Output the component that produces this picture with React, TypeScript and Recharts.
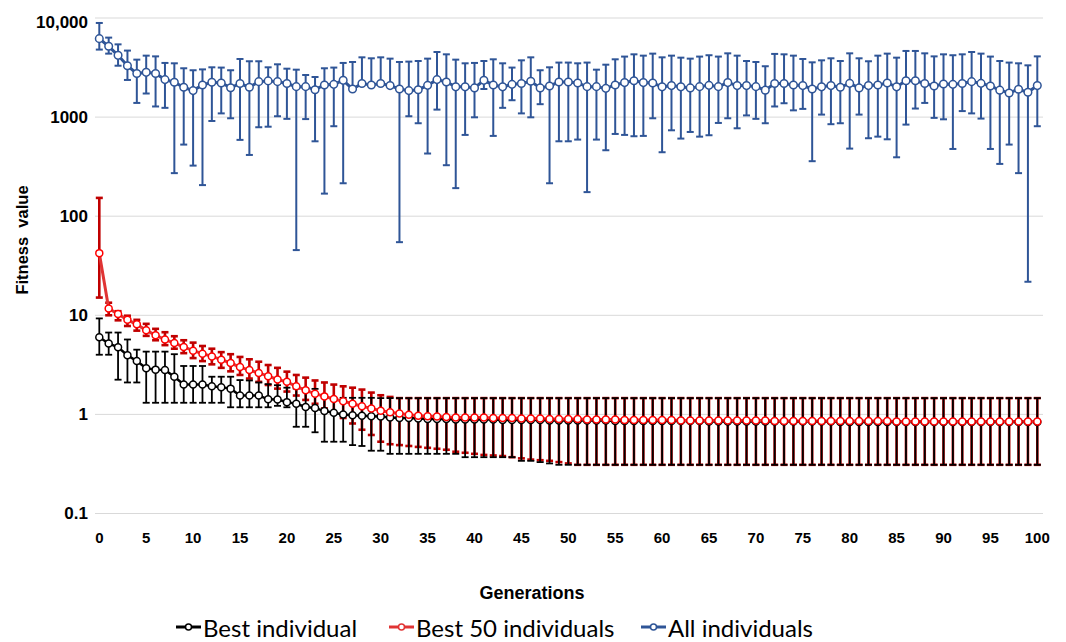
import React from 'react';
import { LineChart, Line, XAxis, YAxis, CartesianGrid, ErrorBar, Legend } from 'recharts';

// ---------- data ----------
const generations = [
  0, 1, 2, 3, 4, 5, 6, 7, 8, 9,
  10, 11, 12, 13, 14, 15, 16, 17, 18, 19,
  20, 21, 22, 23, 24, 25, 26, 27, 28, 29,
  30, 31, 32, 33, 34, 35, 36, 37, 38, 39,
  40, 41, 42, 43, 44, 45, 46, 47, 48, 49,
  50, 51, 52, 53, 54, 55, 56, 57, 58, 59,
  60, 61, 62, 63, 64, 65, 66, 67, 68, 69,
  70, 71, 72, 73, 74, 75, 76, 77, 78, 79,
  80, 81, 82, 83, 84, 85, 86, 87, 88, 89,
  90, 91, 92, 93, 94, 95, 96, 97, 98, 99,
  100,
];

// Best individual
const bestMean = [
  6.0, 5.2, 4.75, 3.95, 3.45, 2.92, 2.83, 2.8, 2.4, 2.0,
  2.0, 2.0, 1.92, 1.88, 1.82, 1.55, 1.55, 1.55, 1.42, 1.41,
  1.33, 1.28, 1.19, 1.16, 1.08, 1.04, 1.0, 0.98, 0.97, 0.96,
  0.95, 0.93, 0.92, 0.92, 0.91, 0.9, 0.9, 0.9, 0.89, 0.89,
  0.89, 0.89, 0.89, 0.88, 0.88, 0.88, 0.88, 0.88, 0.87, 0.87,
  0.87, 0.87, 0.87, 0.87, 0.87, 0.86, 0.86, 0.86, 0.86, 0.86,
  0.86, 0.86, 0.86, 0.86, 0.86, 0.85, 0.85, 0.85, 0.85, 0.85,
  0.85, 0.85, 0.85, 0.85, 0.85, 0.85, 0.85, 0.85, 0.85, 0.84,
  0.84, 0.84, 0.84, 0.84, 0.84, 0.84, 0.84, 0.84, 0.84, 0.84,
  0.84, 0.84, 0.84, 0.84, 0.84, 0.84, 0.84, 0.84, 0.84, 0.84,
  0.84,
];
const bestUpper = [
  9.3, 6.7, 6.7, 5.7, 4.5, 4.3, 4.3, 4.3, 4.05, 3.08,
  3.08, 3.08, 2.4, 2.4, 2.4, 2.22, 2.2, 2.1, 2.02, 1.97,
  1.86, 1.82, 1.82, 1.81, 1.47, 1.47, 1.47, 1.47, 1.47, 1.47,
  1.46, 1.46, 1.46, 1.46, 1.46, 1.46, 1.46, 1.46, 1.46, 1.46,
  1.46, 1.46, 1.46, 1.46, 1.46, 1.46, 1.46, 1.46, 1.46, 1.46,
  1.46, 1.46, 1.46, 1.46, 1.46, 1.46, 1.46, 1.46, 1.46, 1.46,
  1.46, 1.46, 1.46, 1.46, 1.46, 1.46, 1.46, 1.46, 1.46, 1.46,
  1.46, 1.46, 1.46, 1.46, 1.46, 1.46, 1.46, 1.46, 1.46, 1.46,
  1.46, 1.46, 1.46, 1.46, 1.46, 1.46, 1.46, 1.46, 1.46, 1.46,
  1.46, 1.46, 1.46, 1.46, 1.46, 1.46, 1.46, 1.46, 1.46, 1.46,
  1.46,
];
const bestLower = [
  4.0, 4.0, 2.24, 2.1, 2.1, 1.31, 1.31, 1.31, 1.31, 1.31,
  1.31, 1.31, 1.31, 1.31, 1.18, 1.18, 1.18, 1.18, 1.18, 1.22,
  1.18, 0.75, 0.75, 0.66, 0.53, 0.53, 0.53, 0.49, 0.48, 0.43,
  0.43, 0.4, 0.4, 0.4, 0.4, 0.4, 0.4, 0.4, 0.4, 0.37,
  0.37, 0.37, 0.37, 0.37, 0.37, 0.34, 0.34, 0.33, 0.32, 0.31,
  0.31, 0.31, 0.31, 0.31, 0.31, 0.31, 0.31, 0.31, 0.31, 0.31,
  0.31, 0.31, 0.31, 0.31, 0.31, 0.31, 0.31, 0.31, 0.31, 0.31,
  0.31, 0.31, 0.31, 0.31, 0.31, 0.31, 0.31, 0.31, 0.31, 0.31,
  0.31, 0.31, 0.31, 0.31, 0.31, 0.31, 0.31, 0.31, 0.31, 0.31,
  0.31, 0.31, 0.31, 0.31, 0.31, 0.31, 0.31, 0.31, 0.31, 0.31,
  0.31,
];

// Best 50 individuals
const best50Mean = [
  42.4, 11.7, 10.3, 9.0, 8.1, 7.05, 6.3, 5.7, 5.25, 4.8,
  4.4, 4.1, 3.85, 3.57, 3.3, 3.0, 2.8, 2.62, 2.43, 2.25,
  2.13, 1.92, 1.75, 1.62, 1.52, 1.43, 1.36, 1.28, 1.21, 1.15,
  1.09, 1.05, 1.02, 0.99, 0.97, 0.96, 0.95, 0.94, 0.93, 0.93,
  0.93, 0.93, 0.92, 0.92, 0.92, 0.91, 0.91, 0.91, 0.9, 0.9,
  0.9, 0.9, 0.89, 0.89, 0.89, 0.89, 0.88, 0.88, 0.88, 0.88,
  0.88, 0.88, 0.87, 0.87, 0.87, 0.87, 0.87, 0.87, 0.87, 0.87,
  0.87, 0.87, 0.86, 0.86, 0.86, 0.86, 0.86, 0.86, 0.86, 0.86,
  0.86, 0.86, 0.86, 0.86, 0.86, 0.85, 0.85, 0.85, 0.85, 0.85,
  0.85, 0.85, 0.85, 0.85, 0.85, 0.85, 0.85, 0.85, 0.85, 0.85,
  0.85,
];
const best50Upper = [
  153, 13.4, 11.0, 9.9, 9.0, 8.2, 7.3, 6.75, 6.15, 5.6,
  5.3, 4.9, 4.6, 4.25, 4.05, 3.8, 3.6, 3.4, 3.15, 2.95,
  2.7, 2.5, 2.35, 2.2, 2.1, 2.0, 1.92, 1.86, 1.78, 1.66,
  1.56, 1.5, 1.46, 1.46, 1.46, 1.46, 1.46, 1.46, 1.46, 1.46,
  1.46, 1.46, 1.46, 1.46, 1.46, 1.46, 1.46, 1.46, 1.46, 1.46,
  1.46, 1.46, 1.46, 1.46, 1.46, 1.46, 1.46, 1.46, 1.46, 1.46,
  1.46, 1.46, 1.46, 1.46, 1.46, 1.46, 1.46, 1.46, 1.46, 1.46,
  1.46, 1.46, 1.46, 1.46, 1.46, 1.46, 1.46, 1.46, 1.46, 1.46,
  1.46, 1.46, 1.46, 1.46, 1.46, 1.46, 1.46, 1.46, 1.46, 1.46,
  1.46, 1.46, 1.46, 1.46, 1.46, 1.46, 1.46, 1.46, 1.46, 1.46,
  1.46,
];
const best50Lower = [
  15.1, 10.0, 8.9, 7.8, 7.0, 6.2, 5.6, 5.0, 4.6, 4.15,
  3.7, 3.45, 3.2, 2.95, 2.72, 2.5, 2.3, 2.13, 1.98, 1.82,
  1.7, 1.55, 1.4, 1.28, 1.15, 1.03, 0.92, 0.81, 0.7, 0.62,
  0.53, 0.5, 0.49, 0.48, 0.47, 0.46, 0.45, 0.44, 0.42, 0.41,
  0.4, 0.39, 0.385, 0.38, 0.37, 0.36, 0.35, 0.345, 0.34, 0.33,
  0.32, 0.31, 0.31, 0.31, 0.31, 0.31, 0.31, 0.31, 0.31, 0.31,
  0.31, 0.31, 0.31, 0.31, 0.31, 0.31, 0.31, 0.31, 0.31, 0.31,
  0.31, 0.31, 0.31, 0.31, 0.31, 0.31, 0.31, 0.31, 0.31, 0.31,
  0.31, 0.31, 0.31, 0.31, 0.31, 0.31, 0.31, 0.31, 0.31, 0.31,
  0.31, 0.31, 0.31, 0.31, 0.31, 0.31, 0.31, 0.31, 0.31, 0.31,
  0.31,
];

// All individuals
const allMean = [
  6190, 5180, 4200, 3300, 2750, 2830, 2750, 2390, 2250, 2000,
  1850, 2110, 2250, 2210, 1980, 2180, 2000, 2280, 2320, 2280,
  2180, 2030, 2030, 1890, 2110, 2140, 2350, 1920, 2180, 2110,
  2180, 2080, 1920, 1850, 1890, 2090, 2390, 2260, 2020, 2020,
  1970, 2350, 2110, 2020, 2140, 2180, 2300, 1970, 2060, 2260,
  2260, 2210, 2030, 2030, 1950, 2110, 2230, 2330, 2230, 2210,
  2020, 2080, 2020, 1970, 2030, 2090, 2030, 2230, 2080, 2080,
  2030, 1870, 2180, 2180, 2110, 2080, 1920, 2020, 2080, 2000,
  2190, 1970, 2080, 2110, 2210, 2020, 2330, 2330, 2180, 2060,
  2160, 2140, 2180, 2280, 2190, 2060, 1870, 1750, 1910, 1780,
  2080,
];
const allUpper = [
  8910, 6340, 5420, 4690, 3800, 4170, 4100, 3520, 3490, 3110,
  2970, 3030, 3180, 3160, 2970, 3860, 3660, 3660, 3180, 3410,
  3080, 3010, 2660, 2540, 3110, 3160, 3520, 3600, 4010, 3920,
  4010, 3890, 3600, 3630, 3680, 3890, 4540, 4300, 3800, 3490,
  3520, 3680, 3830, 3490, 3160, 3740, 4010, 2970, 3180, 3550,
  3550, 3490, 3550, 3010, 3380, 3830, 4080, 4300, 4170, 4370,
  4010, 4170, 3980, 3890, 4080, 4210, 4080, 4400, 4170, 3680,
  3600, 3260, 4340, 4300, 4170, 3860, 3570, 3740, 3920, 3680,
  4400, 3920, 3660, 4170, 4370, 3980, 4650, 4650, 4400, 4100,
  4300, 4210, 4300, 4540, 4370, 4080, 3680, 3550, 3490, 3330,
  4100,
];
// null = lower bar not drawn
const allLower: (number | null)[] = [
  4800, 4370, 3300, 2370, 1390, 1730, 1280, 1240, 272, 528,
  324, 206, 914, 1090, 973, 589, 415, 790, 800, 1020,
  960, 45.5, 955, 570, 169, 809, 215, null, null, null,
  null, null, 54.7, 1020, 867, 429, 1190, 327, 192, 661,
  995, 1920, 646, 1240, 1480, 1090, 995, 1350, 215, 570,
  570, 593, 175, 593, 463, 676, 661, 641, 646, 973,
  442, 736, 607, 708, 635, 656, 873, 973, 771, 1040,
  960, 867, 1280, 1380, 1170, 1210, 359, 1060, 848, 867,
  481, 1060, 612, 635, 597, 393, 840, 1220, 1390, 982,
  950, 477, 1150, 1090, 966, 477, 337, 528, 272, 21.8,
  809,
];

const xTicks = [0, 5, 10, 15, 20, 25, 30, 35, 40, 45, 50, 55, 60, 65, 70, 75, 80, 85, 90, 95, 100];
const yTicks = [0.1, 1, 10, 100, 1000, 10000];
const yTickLabels = ['0.1', '1', '10', '100', '1000', '10,000'];
const seriesNames = ['Best individual', 'Best 50 individuals', 'All individuals'];

// ---------- styles ----------
const BLACK = '#000000';
const RED_LINE = '#E03434';
const RED_DOT = '#FF0000';
const RED_BAR = '#C00000';
const BLUE = '#2F5597';
const AXIS_FONT = "'Liberation Sans', Arial, sans-serif";
const LEGEND_FONT = "Lato, 'Liberation Sans', sans-serif";
const legendColors = [BLACK, RED_LINE, BLUE];
const legendItemWidths = [213, 252, 230];

const data = generations.map((g, i) => ({
  gen: g,
  best: bestMean[i],
  bestErr: [bestMean[i] - bestLower[i], bestUpper[i] - bestMean[i]],
  best50: best50Mean[i],
  best50Err: [best50Mean[i] - best50Lower[i], best50Upper[i] - best50Mean[i]],
  all: allMean[i],
  allErr: [allLower[i] == null ? 0 : allMean[i] - (allLower[i] as number), allUpper[i] - allMean[i]],
}));

const YTick = (props: any) => {
  const { x, y, payload } = props;
  const idx = yTicks.indexOf(payload.value);
  const shift = payload.value === 10000 ? 4 : 0;
  return (
    <text
      x={x}
      y={y + shift}
      textAnchor="end"
      dominantBaseline="central"
      fontFamily={AXIS_FONT}
      fontSize={17}
      fontWeight={700}
      fill="#000"
    >
      {idx >= 0 ? yTickLabels[idx] : String(payload.value)}
    </text>
  );
};

const YTitle = () => (
  <text
    x={14}
    y={232}
    transform="rotate(-90 14 232)"
    textAnchor="middle"
    dominantBaseline="central"
    fontFamily={AXIS_FONT}
    fontSize={16.5}
    fontWeight={700}
    fill="#000"
    style={{ whiteSpace: 'pre' }}
  >
    {'Fitness  value'}
  </text>
);

const XTitle = () => (
  <text
    x={524}
    y={585}
    textAnchor="middle"
    dominantBaseline="central"
    fontFamily={AXIS_FONT}
    fontSize={18}
    fontWeight={700}
    fill="#000"
  >
    Generations
  </text>
);

const renderLegend = () => (
  <div
    style={{
      height: 30,
      display: 'flex',
      alignItems: 'center',
      paddingLeft: 168,
      fontFamily: LEGEND_FONT,
      fontSize: 24,
      color: '#000',
      whiteSpace: 'nowrap',
      boxSizing: 'border-box',
    }}
  >
    {seriesNames.map((name, idx) => (
      <div key={name} style={{ display: 'flex', alignItems: 'center', width: legendItemWidths[idx] }}>
        <svg width={25} height={12} style={{ display: 'block' }}>
          <line x1={0} y1={6} x2={25} y2={6} stroke={legendColors[idx]} strokeWidth={3} />
          <circle cx={12.5} cy={6} r={3} fill="#fff" stroke={legendColors[idx]} strokeWidth={1.5} />
        </svg>
        <span style={{ marginLeft: 2 }}>{name}</span>
      </div>
    ))}
  </div>
);

export default function App() {
  return (
    <div style={{ width: 1050, height: 634 }}>
      <LineChart width={1050} height={634} data={data} margin={{ top: 10, right: 15, bottom: 0, left: 0 }}>
        <CartesianGrid vertical={false} stroke="#d9d9d9" strokeWidth={1} />
        <XAxis
          dataKey="gen"
          type="number"
          domain={[0, 100]}
          ticks={xTicks}
          interval={0}
          padding={{ left: 4.3, right: 5.7 }}
          axisLine={false}
          tickLine={false}
          tickSize={0}
          tickMargin={19}
          height={98.5}
          tick={{ fontSize: 15, fontWeight: 700, fill: '#000', fontFamily: AXIS_FONT }}
          label={<XTitle />}
        />
        <YAxis
          type="number"
          scale="log"
          domain={[0.1, 10000]}
          ticks={yTicks}
          interval={0}
          allowDataOverflow
          width={87}
          axisLine={false}
          tickLine={false}
          tickSize={0}
          tickMargin={7}
          tick={<YTick />}
          label={<YTitle />}
        />
        <Legend content={renderLegend} verticalAlign="bottom" wrapperStyle={{ left: 0, width: 1050 }} />

        <Line
          dataKey="all"
          type="linear"
          stroke={BLUE}
          strokeWidth={3}
          dot={{ r: 3.8, fill: '#fff', stroke: BLUE, strokeWidth: 1.5 }}
          activeDot={false}
          isAnimationActive={false}
        >
          <ErrorBar dataKey="allErr" width={3.5} strokeWidth={2} stroke={BLUE} isAnimationActive={false} />
        </Line>

        <Line
          dataKey="best50"
          type="linear"
          stroke="none"
          dot={false}
          activeDot={false}
          isAnimationActive={false}
          legendType="none"
        >
          <ErrorBar dataKey="best50Err" width={3.5} strokeWidth={2.6} stroke={RED_BAR} isAnimationActive={false} />
        </Line>

        <Line
          dataKey="best"
          type="linear"
          stroke={BLACK}
          strokeWidth={2.5}
          dot={{ r: 3.5, fill: '#fff', stroke: BLACK, strokeWidth: 1.5 }}
          activeDot={false}
          isAnimationActive={false}
        >
          <ErrorBar dataKey="bestErr" width={3.5} strokeWidth={1.8} stroke={BLACK} isAnimationActive={false} />
        </Line>

        <Line
          dataKey="best50"
          type="linear"
          stroke={RED_LINE}
          strokeWidth={3}
          dot={{ r: 3.5, fill: '#fff', stroke: RED_DOT, strokeWidth: 1.5 }}
          activeDot={false}
          isAnimationActive={false}
        />
      </LineChart>
    </div>
  );
}
